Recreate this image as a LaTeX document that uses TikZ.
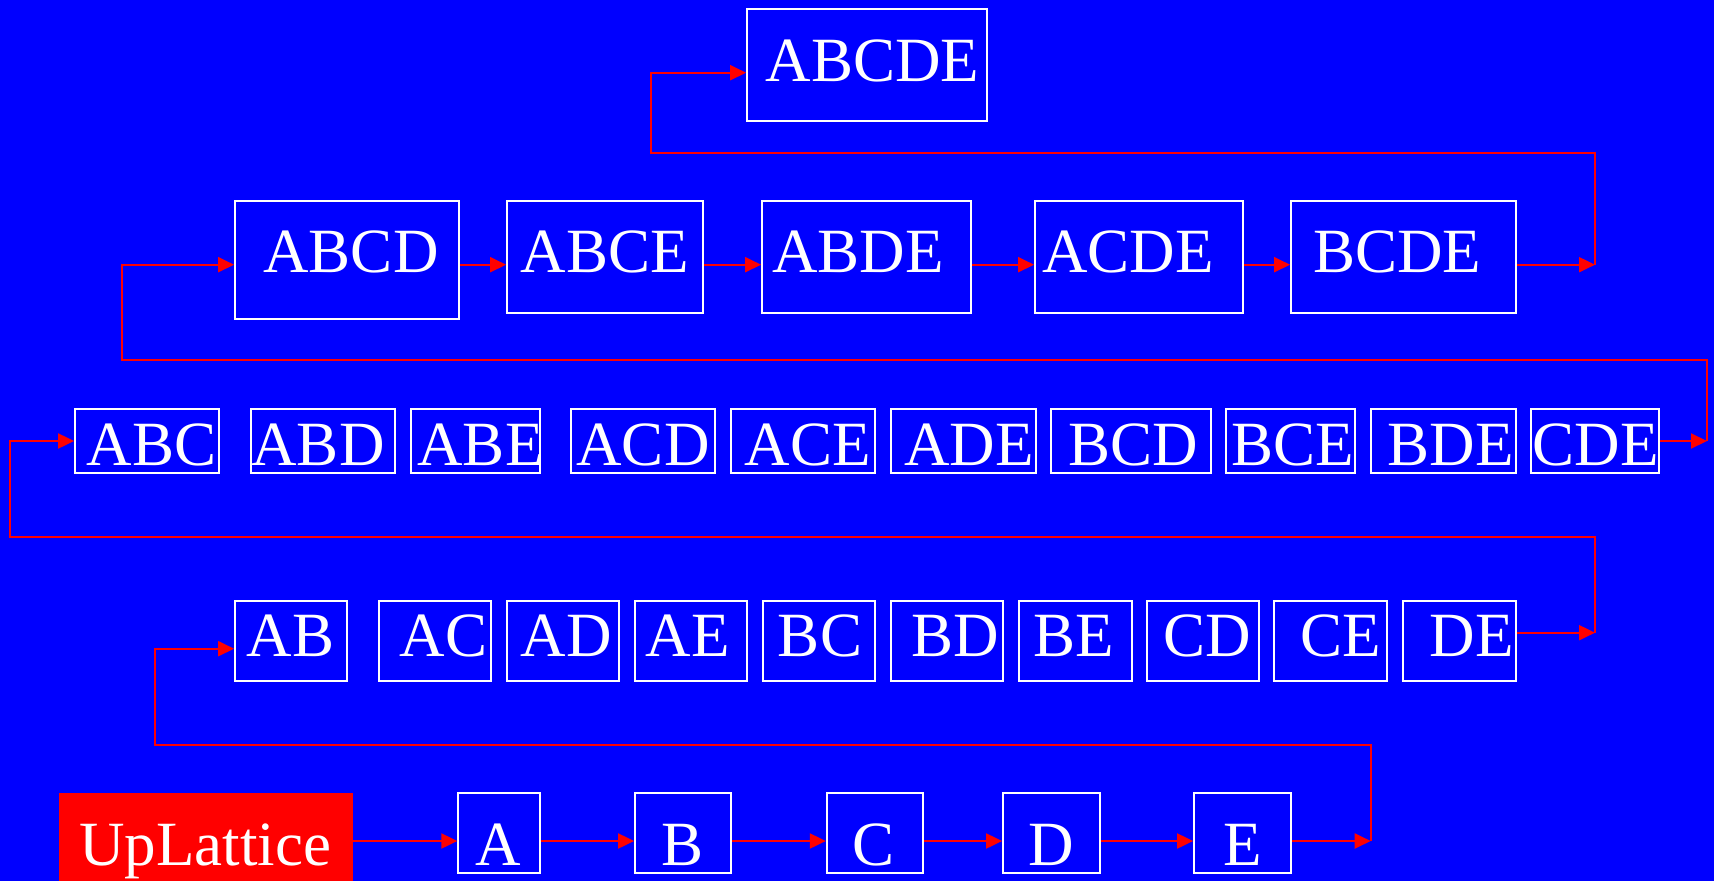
\documentclass[tikz,border=0pt]{standalone}
\usepackage{fontspec}
\setmainfont{Liberation Serif}
\usetikzlibrary{arrows.meta}
\definecolor{bgblue}{RGB}{0,0,255}
\definecolor{lred}{RGB}{255,0,0}
\begin{document}
\begin{tikzpicture}[x=1pt,y=-1pt,
  cell/.style={draw=white, line width=1.8pt, inner sep=0pt, rectangle},
  lbl/.style={text=white, inner sep=0pt, anchor=base, font=\fontsize{63}{63}\selectfont},
  arr/.style={draw=lred, line width=2pt, -{Triangle[length=16pt,width=15pt]}}]
  % background
  \fill[bgblue] (0,0) rectangle (1714,881);
  \useasboundingbox (0,0) rectangle (1714,881);

  % arrow heights of each row
  \coordinate (r1) at (0,72.7);
  \coordinate (r2) at (0,264.7);
  \coordinate (r3) at (0,441);
  \coordinate (r4i) at (0,648.7);
  \coordinate (r4o) at (0,632.7);
  \coordinate (r5) at (0,841);

  % top: ABCDE
  \node[cell, minimum width=240pt, minimum height=112pt] (ABCDE) at (867,65) {};
  \node[lbl] (tABCDE) at (872.5,81) {ABCDE};

  % four-element sets
  \node[cell, minimum width=224pt, minimum height=118pt] (ABCD) at (347,260) {};
  \node[lbl] (tABCD) at (351,272.7) {ABCD};
  \foreach \n/\cx/\w/\tx in {ABCE/605/196/605, ABDE/866.5/209/858,
      ACDE/1139/208/1128, BCDE/1403.5/225/1397}{
    \node[cell, minimum width=\w pt, minimum height=112pt] (\n) at (\cx,257) {};
    \node[lbl] (t\n) at (\tx,272.7) {\n};
  }

  % three-element sets
  \foreach \n/\cx/\w/\tx in {ABC/147/144/151.4, ABD/323/144/318, ABE/475.5/129/480.5,
      ACD/643/144/643, ACE/803/144/807.6, ADE/963.5/145/969, BCD/1131/160/1133,
      BCE/1290.5/129/1293, BDE/1443.5/145/1450.7, CDE/1595/128/1595.5}{
    \node[cell, minimum width=\w pt, minimum height=64pt] (\n) at (\cx,441) {};
    \node[lbl] (t\n) at (\tx,465) {\n};
  }

  % two-element sets
  \foreach \n/\cx/\w/\tx in {AB/291/112/290.5, AC/435/112/443.7, AD/563/112/566.3,
      AE/691/112/687.8, BC/819/112/820, BD/947/112/955.5, BE/1075.5/113/1073.5,
      CD/1203/112/1207.3, CE/1330.5/113/1340.4, DE/1459.5/113/1471.6}{
    \node[cell, minimum width=\w pt, minimum height=80pt] (\n) at (\cx,641) {};
    \node[lbl] (t\n) at (\tx,656.7) {\n};
  }

  % single elements
  \foreach \n/\cx/\w/\tx in {A/499/81.5/498, B/683/96/682.3, C/875/96.5/874,
      D/1051.5/97/1050.8, E/1242.5/97/1242.6}{
    \node[cell, minimum width=\w pt, minimum height=80pt] (\n) at (\cx,833) {};
    \node[lbl] (t\n) at (\tx,865) {\n};
  }

  % start node
  \node[fill=lred, inner sep=0pt, minimum width=294pt, minimum height=88pt] (Up) at (206,837) {};
  \node[lbl] (tUp) at (205.4,865) {UpLattice};

  % chain along the bottom row
  \draw[arr] (Up.east |- r5) -- (A.west |- r5);
  \draw[arr] (A.east |- r5) -- (B.west |- r5);
  \draw[arr] (B.east |- r5) -- (C.west |- r5);
  \draw[arr] (C.east |- r5) -- (D.west |- r5);
  \draw[arr] (D.east |- r5) -- (E.west |- r5);

  % bottom row up to the pairs
  \coordinate (e5) at (1370.7,841);
  \coordinate (u4) at (154.7,744.7);
  \draw[arr] (E.east |- r5) -- (e5);
  \draw[arr] (e5) |- (u4) |- (AB.west |- r4i);

  % pairs up to the triples
  \coordinate (e4) at (1595,632.7);
  \coordinate (u3) at (10.4,536.7);
  \draw[arr] (DE.east |- r4o) -- (e4);
  \draw[arr] (e4) |- (u3) |- (ABC.west |- r3);

  % triples up to the quadruples
  \coordinate (e3) at (1707,441);
  \coordinate (u2) at (122.4,359.6);
  \draw[arr] (CDE.east |- r3) -- (e3);
  \draw[arr] (e3) |- (u2) |- (ABCD.west |- r2);

  % quadruple chain
  \draw[arr] (ABCD.east |- r2) -- (ABCE.west |- r2);
  \draw[arr] (ABCE.east |- r2) -- (ABDE.west |- r2);
  \draw[arr] (ABDE.east |- r2) -- (ACDE.west |- r2);
  \draw[arr] (ACDE.east |- r2) -- (BCDE.west |- r2);

  % quadruples up to the full set
  \coordinate (e2) at (1595,264.7);
  \coordinate (u1) at (651,152.7);
  \draw[arr] (BCDE.east |- r2) -- (e2);
  \draw[arr] (e2) |- (u1) |- (ABCDE.west |- r1);
\end{tikzpicture}
\end{document}
